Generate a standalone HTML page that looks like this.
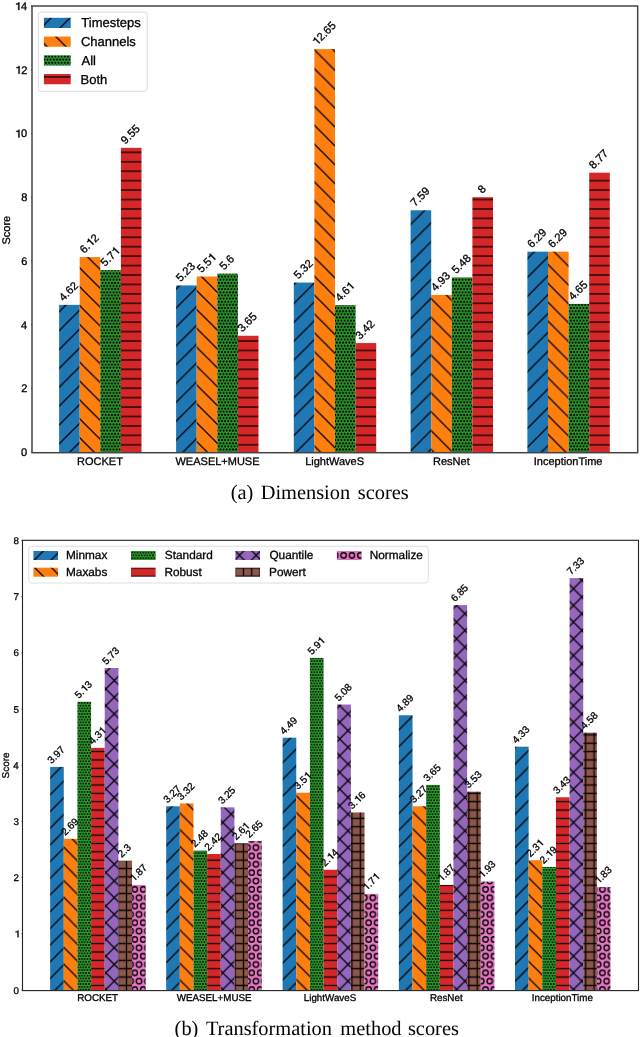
<!DOCTYPE html>
<html><head><meta charset="utf-8"><style>
html,body{margin:0;padding:0;background:#fff;width:640px;height:1037px;overflow:hidden}
svg{display:block;will-change:transform} text{text-rendering:geometricPrecision}
text{fill:#000;stroke:#000;stroke-width:0.3px} text.s{stroke:none}
</style></head><body>
<svg width="640" height="1037" viewBox="0 0 640 1037">
<defs><pattern id="ane_blue" patternUnits="userSpaceOnUse" x="6.480" y="6.020" width="18.8667" height="18.8667"><rect x="-1" y="-1" width="20.867" height="20.867" fill="#1f77b4"/><path d="M-18.867,37.733L37.733,-18.867M-18.867,18.867L18.867,-18.867M0,37.733L37.733,0" stroke="#000" stroke-width="1.25"/></pattern><pattern id="ase_blue" patternUnits="userSpaceOnUse" x="6.480" y="6.020" width="18.8667" height="18.8667"><rect x="-1" y="-1" width="20.867" height="20.867" fill="#1f77b4"/><path d="M-18.867,-18.867L37.733,37.733M-18.867,0L18.867,37.733M0,-18.867L37.733,18.867" stroke="#000" stroke-width="1.25"/></pattern><pattern id="ax_blue" patternUnits="userSpaceOnUse" x="6.480" y="6.020" width="18.8667" height="18.8667"><rect x="-1" y="-1" width="20.867" height="20.867" fill="#1f77b4"/><path d="M-18.867,37.733L37.733,-18.867M-18.867,18.867L18.867,-18.867M0,37.733L37.733,0M-18.867,-18.867L37.733,37.733M-18.867,0L18.867,37.733M0,-18.867L37.733,18.867" stroke="#000" stroke-width="1.25"/></pattern><pattern id="ah_blue" patternUnits="userSpaceOnUse" x="0" y="-3.287" width="9.4333" height="9.4333"><rect x="-1" y="-1" width="11.433" height="11.433" fill="#1f77b4"/><path d="M-1,4.717H10.433" stroke="#000" stroke-width="1.25"/></pattern><pattern id="ap_blue" patternUnits="userSpaceOnUse" x="-2.833" y="-3.287" width="9.4333" height="9.4333"><rect x="-1" y="-1" width="11.433" height="11.433" fill="#1f77b4"/><path d="M-1,4.717H10.433M4.717,-1V10.433" stroke="#000" stroke-width="1.25"/></pattern><pattern id="aO_blue" patternUnits="userSpaceOnUse" x="6.600" y="6.147" width="9.4333" height="18.8667"><rect x="-1" y="-1" width="11.433" height="20.867" fill="#1f77b4"/><g fill="none" stroke="#000" stroke-width="1.25"><circle cx="0.000" cy="0.000" r="3.302"/><circle cx="9.433" cy="0.000" r="3.302"/><circle cx="0.000" cy="18.867" r="3.302"/><circle cx="9.433" cy="18.867" r="3.302"/><circle cx="4.717" cy="9.433" r="3.302"/></g></pattern><pattern id="ad_blue" patternUnits="userSpaceOnUse" x="8.172" y="6.147" width="3.1444" height="6.2889"><rect x="-1" y="-1" width="5.144" height="8.289" fill="#1f77b4"/><g fill="#000"><circle cx="0.000" cy="0.000" r="1.050"/><circle cx="3.144" cy="0.000" r="1.050"/><circle cx="0.000" cy="6.289" r="1.050"/><circle cx="3.144" cy="6.289" r="1.050"/><circle cx="1.572" cy="3.144" r="1.050"/></g></pattern><pattern id="ane_orange" patternUnits="userSpaceOnUse" x="6.480" y="6.020" width="18.8667" height="18.8667"><rect x="-1" y="-1" width="20.867" height="20.867" fill="#ff7f0e"/><path d="M-18.867,37.733L37.733,-18.867M-18.867,18.867L18.867,-18.867M0,37.733L37.733,0" stroke="#000" stroke-width="1.25"/></pattern><pattern id="ase_orange" patternUnits="userSpaceOnUse" x="6.480" y="6.020" width="18.8667" height="18.8667"><rect x="-1" y="-1" width="20.867" height="20.867" fill="#ff7f0e"/><path d="M-18.867,-18.867L37.733,37.733M-18.867,0L18.867,37.733M0,-18.867L37.733,18.867" stroke="#000" stroke-width="1.25"/></pattern><pattern id="ax_orange" patternUnits="userSpaceOnUse" x="6.480" y="6.020" width="18.8667" height="18.8667"><rect x="-1" y="-1" width="20.867" height="20.867" fill="#ff7f0e"/><path d="M-18.867,37.733L37.733,-18.867M-18.867,18.867L18.867,-18.867M0,37.733L37.733,0M-18.867,-18.867L37.733,37.733M-18.867,0L18.867,37.733M0,-18.867L37.733,18.867" stroke="#000" stroke-width="1.25"/></pattern><pattern id="ah_orange" patternUnits="userSpaceOnUse" x="0" y="-3.287" width="9.4333" height="9.4333"><rect x="-1" y="-1" width="11.433" height="11.433" fill="#ff7f0e"/><path d="M-1,4.717H10.433" stroke="#000" stroke-width="1.25"/></pattern><pattern id="ap_orange" patternUnits="userSpaceOnUse" x="-2.833" y="-3.287" width="9.4333" height="9.4333"><rect x="-1" y="-1" width="11.433" height="11.433" fill="#ff7f0e"/><path d="M-1,4.717H10.433M4.717,-1V10.433" stroke="#000" stroke-width="1.25"/></pattern><pattern id="aO_orange" patternUnits="userSpaceOnUse" x="6.600" y="6.147" width="9.4333" height="18.8667"><rect x="-1" y="-1" width="11.433" height="20.867" fill="#ff7f0e"/><g fill="none" stroke="#000" stroke-width="1.25"><circle cx="0.000" cy="0.000" r="3.302"/><circle cx="9.433" cy="0.000" r="3.302"/><circle cx="0.000" cy="18.867" r="3.302"/><circle cx="9.433" cy="18.867" r="3.302"/><circle cx="4.717" cy="9.433" r="3.302"/></g></pattern><pattern id="ad_orange" patternUnits="userSpaceOnUse" x="8.172" y="6.147" width="3.1444" height="6.2889"><rect x="-1" y="-1" width="5.144" height="8.289" fill="#ff7f0e"/><g fill="#000"><circle cx="0.000" cy="0.000" r="1.050"/><circle cx="3.144" cy="0.000" r="1.050"/><circle cx="0.000" cy="6.289" r="1.050"/><circle cx="3.144" cy="6.289" r="1.050"/><circle cx="1.572" cy="3.144" r="1.050"/></g></pattern><pattern id="ane_green" patternUnits="userSpaceOnUse" x="6.480" y="6.020" width="18.8667" height="18.8667"><rect x="-1" y="-1" width="20.867" height="20.867" fill="#2ca02c"/><path d="M-18.867,37.733L37.733,-18.867M-18.867,18.867L18.867,-18.867M0,37.733L37.733,0" stroke="#000" stroke-width="1.25"/></pattern><pattern id="ase_green" patternUnits="userSpaceOnUse" x="6.480" y="6.020" width="18.8667" height="18.8667"><rect x="-1" y="-1" width="20.867" height="20.867" fill="#2ca02c"/><path d="M-18.867,-18.867L37.733,37.733M-18.867,0L18.867,37.733M0,-18.867L37.733,18.867" stroke="#000" stroke-width="1.25"/></pattern><pattern id="ax_green" patternUnits="userSpaceOnUse" x="6.480" y="6.020" width="18.8667" height="18.8667"><rect x="-1" y="-1" width="20.867" height="20.867" fill="#2ca02c"/><path d="M-18.867,37.733L37.733,-18.867M-18.867,18.867L18.867,-18.867M0,37.733L37.733,0M-18.867,-18.867L37.733,37.733M-18.867,0L18.867,37.733M0,-18.867L37.733,18.867" stroke="#000" stroke-width="1.25"/></pattern><pattern id="ah_green" patternUnits="userSpaceOnUse" x="0" y="-3.287" width="9.4333" height="9.4333"><rect x="-1" y="-1" width="11.433" height="11.433" fill="#2ca02c"/><path d="M-1,4.717H10.433" stroke="#000" stroke-width="1.25"/></pattern><pattern id="ap_green" patternUnits="userSpaceOnUse" x="-2.833" y="-3.287" width="9.4333" height="9.4333"><rect x="-1" y="-1" width="11.433" height="11.433" fill="#2ca02c"/><path d="M-1,4.717H10.433M4.717,-1V10.433" stroke="#000" stroke-width="1.25"/></pattern><pattern id="aO_green" patternUnits="userSpaceOnUse" x="6.600" y="6.147" width="9.4333" height="18.8667"><rect x="-1" y="-1" width="11.433" height="20.867" fill="#2ca02c"/><g fill="none" stroke="#000" stroke-width="1.25"><circle cx="0.000" cy="0.000" r="3.302"/><circle cx="9.433" cy="0.000" r="3.302"/><circle cx="0.000" cy="18.867" r="3.302"/><circle cx="9.433" cy="18.867" r="3.302"/><circle cx="4.717" cy="9.433" r="3.302"/></g></pattern><pattern id="ad_green" patternUnits="userSpaceOnUse" x="8.172" y="6.147" width="3.1444" height="6.2889"><rect x="-1" y="-1" width="5.144" height="8.289" fill="#2ca02c"/><g fill="#000"><circle cx="0.000" cy="0.000" r="1.050"/><circle cx="3.144" cy="0.000" r="1.050"/><circle cx="0.000" cy="6.289" r="1.050"/><circle cx="3.144" cy="6.289" r="1.050"/><circle cx="1.572" cy="3.144" r="1.050"/></g></pattern><pattern id="ane_red" patternUnits="userSpaceOnUse" x="6.480" y="6.020" width="18.8667" height="18.8667"><rect x="-1" y="-1" width="20.867" height="20.867" fill="#d62728"/><path d="M-18.867,37.733L37.733,-18.867M-18.867,18.867L18.867,-18.867M0,37.733L37.733,0" stroke="#000" stroke-width="1.25"/></pattern><pattern id="ase_red" patternUnits="userSpaceOnUse" x="6.480" y="6.020" width="18.8667" height="18.8667"><rect x="-1" y="-1" width="20.867" height="20.867" fill="#d62728"/><path d="M-18.867,-18.867L37.733,37.733M-18.867,0L18.867,37.733M0,-18.867L37.733,18.867" stroke="#000" stroke-width="1.25"/></pattern><pattern id="ax_red" patternUnits="userSpaceOnUse" x="6.480" y="6.020" width="18.8667" height="18.8667"><rect x="-1" y="-1" width="20.867" height="20.867" fill="#d62728"/><path d="M-18.867,37.733L37.733,-18.867M-18.867,18.867L18.867,-18.867M0,37.733L37.733,0M-18.867,-18.867L37.733,37.733M-18.867,0L18.867,37.733M0,-18.867L37.733,18.867" stroke="#000" stroke-width="1.25"/></pattern><pattern id="ah_red" patternUnits="userSpaceOnUse" x="0" y="-3.287" width="9.4333" height="9.4333"><rect x="-1" y="-1" width="11.433" height="11.433" fill="#d62728"/><path d="M-1,4.717H10.433" stroke="#000" stroke-width="1.25"/></pattern><pattern id="ap_red" patternUnits="userSpaceOnUse" x="-2.833" y="-3.287" width="9.4333" height="9.4333"><rect x="-1" y="-1" width="11.433" height="11.433" fill="#d62728"/><path d="M-1,4.717H10.433M4.717,-1V10.433" stroke="#000" stroke-width="1.25"/></pattern><pattern id="aO_red" patternUnits="userSpaceOnUse" x="6.600" y="6.147" width="9.4333" height="18.8667"><rect x="-1" y="-1" width="11.433" height="20.867" fill="#d62728"/><g fill="none" stroke="#000" stroke-width="1.25"><circle cx="0.000" cy="0.000" r="3.302"/><circle cx="9.433" cy="0.000" r="3.302"/><circle cx="0.000" cy="18.867" r="3.302"/><circle cx="9.433" cy="18.867" r="3.302"/><circle cx="4.717" cy="9.433" r="3.302"/></g></pattern><pattern id="ad_red" patternUnits="userSpaceOnUse" x="8.172" y="6.147" width="3.1444" height="6.2889"><rect x="-1" y="-1" width="5.144" height="8.289" fill="#d62728"/><g fill="#000"><circle cx="0.000" cy="0.000" r="1.050"/><circle cx="3.144" cy="0.000" r="1.050"/><circle cx="0.000" cy="6.289" r="1.050"/><circle cx="3.144" cy="6.289" r="1.050"/><circle cx="1.572" cy="3.144" r="1.050"/></g></pattern><pattern id="ane_purple" patternUnits="userSpaceOnUse" x="6.480" y="6.020" width="18.8667" height="18.8667"><rect x="-1" y="-1" width="20.867" height="20.867" fill="#9467bd"/><path d="M-18.867,37.733L37.733,-18.867M-18.867,18.867L18.867,-18.867M0,37.733L37.733,0" stroke="#000" stroke-width="1.25"/></pattern><pattern id="ase_purple" patternUnits="userSpaceOnUse" x="6.480" y="6.020" width="18.8667" height="18.8667"><rect x="-1" y="-1" width="20.867" height="20.867" fill="#9467bd"/><path d="M-18.867,-18.867L37.733,37.733M-18.867,0L18.867,37.733M0,-18.867L37.733,18.867" stroke="#000" stroke-width="1.25"/></pattern><pattern id="ax_purple" patternUnits="userSpaceOnUse" x="6.480" y="6.020" width="18.8667" height="18.8667"><rect x="-1" y="-1" width="20.867" height="20.867" fill="#9467bd"/><path d="M-18.867,37.733L37.733,-18.867M-18.867,18.867L18.867,-18.867M0,37.733L37.733,0M-18.867,-18.867L37.733,37.733M-18.867,0L18.867,37.733M0,-18.867L37.733,18.867" stroke="#000" stroke-width="1.25"/></pattern><pattern id="ah_purple" patternUnits="userSpaceOnUse" x="0" y="-3.287" width="9.4333" height="9.4333"><rect x="-1" y="-1" width="11.433" height="11.433" fill="#9467bd"/><path d="M-1,4.717H10.433" stroke="#000" stroke-width="1.25"/></pattern><pattern id="ap_purple" patternUnits="userSpaceOnUse" x="-2.833" y="-3.287" width="9.4333" height="9.4333"><rect x="-1" y="-1" width="11.433" height="11.433" fill="#9467bd"/><path d="M-1,4.717H10.433M4.717,-1V10.433" stroke="#000" stroke-width="1.25"/></pattern><pattern id="aO_purple" patternUnits="userSpaceOnUse" x="6.600" y="6.147" width="9.4333" height="18.8667"><rect x="-1" y="-1" width="11.433" height="20.867" fill="#9467bd"/><g fill="none" stroke="#000" stroke-width="1.25"><circle cx="0.000" cy="0.000" r="3.302"/><circle cx="9.433" cy="0.000" r="3.302"/><circle cx="0.000" cy="18.867" r="3.302"/><circle cx="9.433" cy="18.867" r="3.302"/><circle cx="4.717" cy="9.433" r="3.302"/></g></pattern><pattern id="ad_purple" patternUnits="userSpaceOnUse" x="8.172" y="6.147" width="3.1444" height="6.2889"><rect x="-1" y="-1" width="5.144" height="8.289" fill="#9467bd"/><g fill="#000"><circle cx="0.000" cy="0.000" r="1.050"/><circle cx="3.144" cy="0.000" r="1.050"/><circle cx="0.000" cy="6.289" r="1.050"/><circle cx="3.144" cy="6.289" r="1.050"/><circle cx="1.572" cy="3.144" r="1.050"/></g></pattern><pattern id="ane_brown" patternUnits="userSpaceOnUse" x="6.480" y="6.020" width="18.8667" height="18.8667"><rect x="-1" y="-1" width="20.867" height="20.867" fill="#8c564b"/><path d="M-18.867,37.733L37.733,-18.867M-18.867,18.867L18.867,-18.867M0,37.733L37.733,0" stroke="#000" stroke-width="1.25"/></pattern><pattern id="ase_brown" patternUnits="userSpaceOnUse" x="6.480" y="6.020" width="18.8667" height="18.8667"><rect x="-1" y="-1" width="20.867" height="20.867" fill="#8c564b"/><path d="M-18.867,-18.867L37.733,37.733M-18.867,0L18.867,37.733M0,-18.867L37.733,18.867" stroke="#000" stroke-width="1.25"/></pattern><pattern id="ax_brown" patternUnits="userSpaceOnUse" x="6.480" y="6.020" width="18.8667" height="18.8667"><rect x="-1" y="-1" width="20.867" height="20.867" fill="#8c564b"/><path d="M-18.867,37.733L37.733,-18.867M-18.867,18.867L18.867,-18.867M0,37.733L37.733,0M-18.867,-18.867L37.733,37.733M-18.867,0L18.867,37.733M0,-18.867L37.733,18.867" stroke="#000" stroke-width="1.25"/></pattern><pattern id="ah_brown" patternUnits="userSpaceOnUse" x="0" y="-3.287" width="9.4333" height="9.4333"><rect x="-1" y="-1" width="11.433" height="11.433" fill="#8c564b"/><path d="M-1,4.717H10.433" stroke="#000" stroke-width="1.25"/></pattern><pattern id="ap_brown" patternUnits="userSpaceOnUse" x="-2.833" y="-3.287" width="9.4333" height="9.4333"><rect x="-1" y="-1" width="11.433" height="11.433" fill="#8c564b"/><path d="M-1,4.717H10.433M4.717,-1V10.433" stroke="#000" stroke-width="1.25"/></pattern><pattern id="aO_brown" patternUnits="userSpaceOnUse" x="6.600" y="6.147" width="9.4333" height="18.8667"><rect x="-1" y="-1" width="11.433" height="20.867" fill="#8c564b"/><g fill="none" stroke="#000" stroke-width="1.25"><circle cx="0.000" cy="0.000" r="3.302"/><circle cx="9.433" cy="0.000" r="3.302"/><circle cx="0.000" cy="18.867" r="3.302"/><circle cx="9.433" cy="18.867" r="3.302"/><circle cx="4.717" cy="9.433" r="3.302"/></g></pattern><pattern id="ad_brown" patternUnits="userSpaceOnUse" x="8.172" y="6.147" width="3.1444" height="6.2889"><rect x="-1" y="-1" width="5.144" height="8.289" fill="#8c564b"/><g fill="#000"><circle cx="0.000" cy="0.000" r="1.050"/><circle cx="3.144" cy="0.000" r="1.050"/><circle cx="0.000" cy="6.289" r="1.050"/><circle cx="3.144" cy="6.289" r="1.050"/><circle cx="1.572" cy="3.144" r="1.050"/></g></pattern><pattern id="ane_pink" patternUnits="userSpaceOnUse" x="6.480" y="6.020" width="18.8667" height="18.8667"><rect x="-1" y="-1" width="20.867" height="20.867" fill="#e377c2"/><path d="M-18.867,37.733L37.733,-18.867M-18.867,18.867L18.867,-18.867M0,37.733L37.733,0" stroke="#000" stroke-width="1.25"/></pattern><pattern id="ase_pink" patternUnits="userSpaceOnUse" x="6.480" y="6.020" width="18.8667" height="18.8667"><rect x="-1" y="-1" width="20.867" height="20.867" fill="#e377c2"/><path d="M-18.867,-18.867L37.733,37.733M-18.867,0L18.867,37.733M0,-18.867L37.733,18.867" stroke="#000" stroke-width="1.25"/></pattern><pattern id="ax_pink" patternUnits="userSpaceOnUse" x="6.480" y="6.020" width="18.8667" height="18.8667"><rect x="-1" y="-1" width="20.867" height="20.867" fill="#e377c2"/><path d="M-18.867,37.733L37.733,-18.867M-18.867,18.867L18.867,-18.867M0,37.733L37.733,0M-18.867,-18.867L37.733,37.733M-18.867,0L18.867,37.733M0,-18.867L37.733,18.867" stroke="#000" stroke-width="1.25"/></pattern><pattern id="ah_pink" patternUnits="userSpaceOnUse" x="0" y="-3.287" width="9.4333" height="9.4333"><rect x="-1" y="-1" width="11.433" height="11.433" fill="#e377c2"/><path d="M-1,4.717H10.433" stroke="#000" stroke-width="1.25"/></pattern><pattern id="ap_pink" patternUnits="userSpaceOnUse" x="-2.833" y="-3.287" width="9.4333" height="9.4333"><rect x="-1" y="-1" width="11.433" height="11.433" fill="#e377c2"/><path d="M-1,4.717H10.433M4.717,-1V10.433" stroke="#000" stroke-width="1.25"/></pattern><pattern id="aO_pink" patternUnits="userSpaceOnUse" x="6.600" y="6.147" width="9.4333" height="18.8667"><rect x="-1" y="-1" width="11.433" height="20.867" fill="#e377c2"/><g fill="none" stroke="#000" stroke-width="1.25"><circle cx="0.000" cy="0.000" r="3.302"/><circle cx="9.433" cy="0.000" r="3.302"/><circle cx="0.000" cy="18.867" r="3.302"/><circle cx="9.433" cy="18.867" r="3.302"/><circle cx="4.717" cy="9.433" r="3.302"/></g></pattern><pattern id="ad_pink" patternUnits="userSpaceOnUse" x="8.172" y="6.147" width="3.1444" height="6.2889"><rect x="-1" y="-1" width="5.144" height="8.289" fill="#e377c2"/><g fill="#000"><circle cx="0.000" cy="0.000" r="1.050"/><circle cx="3.144" cy="0.000" r="1.050"/><circle cx="0.000" cy="6.289" r="1.050"/><circle cx="3.144" cy="6.289" r="1.050"/><circle cx="1.572" cy="3.144" r="1.050"/></g></pattern><pattern id="bne_blue" patternUnits="userSpaceOnUse" x="105.900" y="939.400" width="16.7000" height="16.7000"><rect x="-1" y="-1" width="18.700" height="18.700" fill="#1f77b4"/><path d="M-16.700,33.400L33.400,-16.700M-16.700,16.700L16.700,-16.700M0,33.400L33.400,0" stroke="#000" stroke-width="1.25"/></pattern><pattern id="bse_blue" patternUnits="userSpaceOnUse" x="105.900" y="939.400" width="16.7000" height="16.7000"><rect x="-1" y="-1" width="18.700" height="18.700" fill="#1f77b4"/><path d="M-16.700,-16.700L33.400,33.400M-16.700,0L16.700,33.400M0,-16.700L33.400,16.700" stroke="#000" stroke-width="1.25"/></pattern><pattern id="bx_blue" patternUnits="userSpaceOnUse" x="105.900" y="939.400" width="16.7000" height="16.7000"><rect x="-1" y="-1" width="18.700" height="18.700" fill="#1f77b4"/><path d="M-16.700,33.400L33.400,-16.700M-16.700,16.700L16.700,-16.700M0,33.400L33.400,0M-16.700,-16.700L33.400,33.400M-16.700,0L16.700,33.400M0,-16.700L33.400,16.700" stroke="#000" stroke-width="1.25"/></pattern><pattern id="bh_blue" patternUnits="userSpaceOnUse" x="0" y="-4.075" width="8.3500" height="8.3500"><rect x="-1" y="-1" width="10.350" height="10.350" fill="#1f77b4"/><path d="M-1,4.175H9.350" stroke="#000" stroke-width="1.25"/></pattern><pattern id="bp_blue" patternUnits="userSpaceOnUse" x="122.325" y="-4.075" width="8.3500" height="8.3500"><rect x="-1" y="-1" width="10.350" height="10.350" fill="#1f77b4"/><path d="M-1,4.175H9.350M4.175,-1V9.350" stroke="#000" stroke-width="1.25"/></pattern><pattern id="bO_blue" patternUnits="userSpaceOnUse" x="130.675" y="12.625" width="8.3500" height="16.7000"><rect x="-1" y="-1" width="10.350" height="18.700" fill="#1f77b4"/><g fill="none" stroke="#000" stroke-width="1.3"><circle cx="0.000" cy="0.000" r="2.700"/><circle cx="8.350" cy="0.000" r="2.700"/><circle cx="0.000" cy="16.700" r="2.700"/><circle cx="8.350" cy="16.700" r="2.700"/><circle cx="4.175" cy="8.350" r="2.700"/></g></pattern><pattern id="bd_blue" patternUnits="userSpaceOnUse" x="130.675" y="4.275" width="2.7833" height="5.5667"><rect x="-1" y="-1" width="4.783" height="7.567" fill="#1f77b4"/><g fill="#000"><circle cx="0.000" cy="0.000" r="0.950"/><circle cx="2.783" cy="0.000" r="0.950"/><circle cx="0.000" cy="5.567" r="0.950"/><circle cx="2.783" cy="5.567" r="0.950"/><circle cx="1.392" cy="2.783" r="0.950"/></g></pattern><pattern id="bne_orange" patternUnits="userSpaceOnUse" x="105.900" y="939.400" width="16.7000" height="16.7000"><rect x="-1" y="-1" width="18.700" height="18.700" fill="#ff7f0e"/><path d="M-16.700,33.400L33.400,-16.700M-16.700,16.700L16.700,-16.700M0,33.400L33.400,0" stroke="#000" stroke-width="1.25"/></pattern><pattern id="bse_orange" patternUnits="userSpaceOnUse" x="105.900" y="939.400" width="16.7000" height="16.7000"><rect x="-1" y="-1" width="18.700" height="18.700" fill="#ff7f0e"/><path d="M-16.700,-16.700L33.400,33.400M-16.700,0L16.700,33.400M0,-16.700L33.400,16.700" stroke="#000" stroke-width="1.25"/></pattern><pattern id="bx_orange" patternUnits="userSpaceOnUse" x="105.900" y="939.400" width="16.7000" height="16.7000"><rect x="-1" y="-1" width="18.700" height="18.700" fill="#ff7f0e"/><path d="M-16.700,33.400L33.400,-16.700M-16.700,16.700L16.700,-16.700M0,33.400L33.400,0M-16.700,-16.700L33.400,33.400M-16.700,0L16.700,33.400M0,-16.700L33.400,16.700" stroke="#000" stroke-width="1.25"/></pattern><pattern id="bh_orange" patternUnits="userSpaceOnUse" x="0" y="-4.075" width="8.3500" height="8.3500"><rect x="-1" y="-1" width="10.350" height="10.350" fill="#ff7f0e"/><path d="M-1,4.175H9.350" stroke="#000" stroke-width="1.25"/></pattern><pattern id="bp_orange" patternUnits="userSpaceOnUse" x="122.325" y="-4.075" width="8.3500" height="8.3500"><rect x="-1" y="-1" width="10.350" height="10.350" fill="#ff7f0e"/><path d="M-1,4.175H9.350M4.175,-1V9.350" stroke="#000" stroke-width="1.25"/></pattern><pattern id="bO_orange" patternUnits="userSpaceOnUse" x="130.675" y="12.625" width="8.3500" height="16.7000"><rect x="-1" y="-1" width="10.350" height="18.700" fill="#ff7f0e"/><g fill="none" stroke="#000" stroke-width="1.3"><circle cx="0.000" cy="0.000" r="2.700"/><circle cx="8.350" cy="0.000" r="2.700"/><circle cx="0.000" cy="16.700" r="2.700"/><circle cx="8.350" cy="16.700" r="2.700"/><circle cx="4.175" cy="8.350" r="2.700"/></g></pattern><pattern id="bd_orange" patternUnits="userSpaceOnUse" x="130.675" y="4.275" width="2.7833" height="5.5667"><rect x="-1" y="-1" width="4.783" height="7.567" fill="#ff7f0e"/><g fill="#000"><circle cx="0.000" cy="0.000" r="0.950"/><circle cx="2.783" cy="0.000" r="0.950"/><circle cx="0.000" cy="5.567" r="0.950"/><circle cx="2.783" cy="5.567" r="0.950"/><circle cx="1.392" cy="2.783" r="0.950"/></g></pattern><pattern id="bne_green" patternUnits="userSpaceOnUse" x="105.900" y="939.400" width="16.7000" height="16.7000"><rect x="-1" y="-1" width="18.700" height="18.700" fill="#2ca02c"/><path d="M-16.700,33.400L33.400,-16.700M-16.700,16.700L16.700,-16.700M0,33.400L33.400,0" stroke="#000" stroke-width="1.25"/></pattern><pattern id="bse_green" patternUnits="userSpaceOnUse" x="105.900" y="939.400" width="16.7000" height="16.7000"><rect x="-1" y="-1" width="18.700" height="18.700" fill="#2ca02c"/><path d="M-16.700,-16.700L33.400,33.400M-16.700,0L16.700,33.400M0,-16.700L33.400,16.700" stroke="#000" stroke-width="1.25"/></pattern><pattern id="bx_green" patternUnits="userSpaceOnUse" x="105.900" y="939.400" width="16.7000" height="16.7000"><rect x="-1" y="-1" width="18.700" height="18.700" fill="#2ca02c"/><path d="M-16.700,33.400L33.400,-16.700M-16.700,16.700L16.700,-16.700M0,33.400L33.400,0M-16.700,-16.700L33.400,33.400M-16.700,0L16.700,33.400M0,-16.700L33.400,16.700" stroke="#000" stroke-width="1.25"/></pattern><pattern id="bh_green" patternUnits="userSpaceOnUse" x="0" y="-4.075" width="8.3500" height="8.3500"><rect x="-1" y="-1" width="10.350" height="10.350" fill="#2ca02c"/><path d="M-1,4.175H9.350" stroke="#000" stroke-width="1.25"/></pattern><pattern id="bp_green" patternUnits="userSpaceOnUse" x="122.325" y="-4.075" width="8.3500" height="8.3500"><rect x="-1" y="-1" width="10.350" height="10.350" fill="#2ca02c"/><path d="M-1,4.175H9.350M4.175,-1V9.350" stroke="#000" stroke-width="1.25"/></pattern><pattern id="bO_green" patternUnits="userSpaceOnUse" x="130.675" y="12.625" width="8.3500" height="16.7000"><rect x="-1" y="-1" width="10.350" height="18.700" fill="#2ca02c"/><g fill="none" stroke="#000" stroke-width="1.3"><circle cx="0.000" cy="0.000" r="2.700"/><circle cx="8.350" cy="0.000" r="2.700"/><circle cx="0.000" cy="16.700" r="2.700"/><circle cx="8.350" cy="16.700" r="2.700"/><circle cx="4.175" cy="8.350" r="2.700"/></g></pattern><pattern id="bd_green" patternUnits="userSpaceOnUse" x="130.675" y="4.275" width="2.7833" height="5.5667"><rect x="-1" y="-1" width="4.783" height="7.567" fill="#2ca02c"/><g fill="#000"><circle cx="0.000" cy="0.000" r="0.950"/><circle cx="2.783" cy="0.000" r="0.950"/><circle cx="0.000" cy="5.567" r="0.950"/><circle cx="2.783" cy="5.567" r="0.950"/><circle cx="1.392" cy="2.783" r="0.950"/></g></pattern><pattern id="bne_red" patternUnits="userSpaceOnUse" x="105.900" y="939.400" width="16.7000" height="16.7000"><rect x="-1" y="-1" width="18.700" height="18.700" fill="#d62728"/><path d="M-16.700,33.400L33.400,-16.700M-16.700,16.700L16.700,-16.700M0,33.400L33.400,0" stroke="#000" stroke-width="1.25"/></pattern><pattern id="bse_red" patternUnits="userSpaceOnUse" x="105.900" y="939.400" width="16.7000" height="16.7000"><rect x="-1" y="-1" width="18.700" height="18.700" fill="#d62728"/><path d="M-16.700,-16.700L33.400,33.400M-16.700,0L16.700,33.400M0,-16.700L33.400,16.700" stroke="#000" stroke-width="1.25"/></pattern><pattern id="bx_red" patternUnits="userSpaceOnUse" x="105.900" y="939.400" width="16.7000" height="16.7000"><rect x="-1" y="-1" width="18.700" height="18.700" fill="#d62728"/><path d="M-16.700,33.400L33.400,-16.700M-16.700,16.700L16.700,-16.700M0,33.400L33.400,0M-16.700,-16.700L33.400,33.400M-16.700,0L16.700,33.400M0,-16.700L33.400,16.700" stroke="#000" stroke-width="1.25"/></pattern><pattern id="bh_red" patternUnits="userSpaceOnUse" x="0" y="-4.075" width="8.3500" height="8.3500"><rect x="-1" y="-1" width="10.350" height="10.350" fill="#d62728"/><path d="M-1,4.175H9.350" stroke="#000" stroke-width="1.25"/></pattern><pattern id="bp_red" patternUnits="userSpaceOnUse" x="122.325" y="-4.075" width="8.3500" height="8.3500"><rect x="-1" y="-1" width="10.350" height="10.350" fill="#d62728"/><path d="M-1,4.175H9.350M4.175,-1V9.350" stroke="#000" stroke-width="1.25"/></pattern><pattern id="bO_red" patternUnits="userSpaceOnUse" x="130.675" y="12.625" width="8.3500" height="16.7000"><rect x="-1" y="-1" width="10.350" height="18.700" fill="#d62728"/><g fill="none" stroke="#000" stroke-width="1.3"><circle cx="0.000" cy="0.000" r="2.700"/><circle cx="8.350" cy="0.000" r="2.700"/><circle cx="0.000" cy="16.700" r="2.700"/><circle cx="8.350" cy="16.700" r="2.700"/><circle cx="4.175" cy="8.350" r="2.700"/></g></pattern><pattern id="bd_red" patternUnits="userSpaceOnUse" x="130.675" y="4.275" width="2.7833" height="5.5667"><rect x="-1" y="-1" width="4.783" height="7.567" fill="#d62728"/><g fill="#000"><circle cx="0.000" cy="0.000" r="0.950"/><circle cx="2.783" cy="0.000" r="0.950"/><circle cx="0.000" cy="5.567" r="0.950"/><circle cx="2.783" cy="5.567" r="0.950"/><circle cx="1.392" cy="2.783" r="0.950"/></g></pattern><pattern id="bne_purple" patternUnits="userSpaceOnUse" x="105.900" y="939.400" width="16.7000" height="16.7000"><rect x="-1" y="-1" width="18.700" height="18.700" fill="#9467bd"/><path d="M-16.700,33.400L33.400,-16.700M-16.700,16.700L16.700,-16.700M0,33.400L33.400,0" stroke="#000" stroke-width="1.25"/></pattern><pattern id="bse_purple" patternUnits="userSpaceOnUse" x="105.900" y="939.400" width="16.7000" height="16.7000"><rect x="-1" y="-1" width="18.700" height="18.700" fill="#9467bd"/><path d="M-16.700,-16.700L33.400,33.400M-16.700,0L16.700,33.400M0,-16.700L33.400,16.700" stroke="#000" stroke-width="1.25"/></pattern><pattern id="bx_purple" patternUnits="userSpaceOnUse" x="105.900" y="939.400" width="16.7000" height="16.7000"><rect x="-1" y="-1" width="18.700" height="18.700" fill="#9467bd"/><path d="M-16.700,33.400L33.400,-16.700M-16.700,16.700L16.700,-16.700M0,33.400L33.400,0M-16.700,-16.700L33.400,33.400M-16.700,0L16.700,33.400M0,-16.700L33.400,16.700" stroke="#000" stroke-width="1.25"/></pattern><pattern id="bh_purple" patternUnits="userSpaceOnUse" x="0" y="-4.075" width="8.3500" height="8.3500"><rect x="-1" y="-1" width="10.350" height="10.350" fill="#9467bd"/><path d="M-1,4.175H9.350" stroke="#000" stroke-width="1.25"/></pattern><pattern id="bp_purple" patternUnits="userSpaceOnUse" x="122.325" y="-4.075" width="8.3500" height="8.3500"><rect x="-1" y="-1" width="10.350" height="10.350" fill="#9467bd"/><path d="M-1,4.175H9.350M4.175,-1V9.350" stroke="#000" stroke-width="1.25"/></pattern><pattern id="bO_purple" patternUnits="userSpaceOnUse" x="130.675" y="12.625" width="8.3500" height="16.7000"><rect x="-1" y="-1" width="10.350" height="18.700" fill="#9467bd"/><g fill="none" stroke="#000" stroke-width="1.3"><circle cx="0.000" cy="0.000" r="2.700"/><circle cx="8.350" cy="0.000" r="2.700"/><circle cx="0.000" cy="16.700" r="2.700"/><circle cx="8.350" cy="16.700" r="2.700"/><circle cx="4.175" cy="8.350" r="2.700"/></g></pattern><pattern id="bd_purple" patternUnits="userSpaceOnUse" x="130.675" y="4.275" width="2.7833" height="5.5667"><rect x="-1" y="-1" width="4.783" height="7.567" fill="#9467bd"/><g fill="#000"><circle cx="0.000" cy="0.000" r="0.950"/><circle cx="2.783" cy="0.000" r="0.950"/><circle cx="0.000" cy="5.567" r="0.950"/><circle cx="2.783" cy="5.567" r="0.950"/><circle cx="1.392" cy="2.783" r="0.950"/></g></pattern><pattern id="bne_brown" patternUnits="userSpaceOnUse" x="105.900" y="939.400" width="16.7000" height="16.7000"><rect x="-1" y="-1" width="18.700" height="18.700" fill="#8c564b"/><path d="M-16.700,33.400L33.400,-16.700M-16.700,16.700L16.700,-16.700M0,33.400L33.400,0" stroke="#000" stroke-width="1.25"/></pattern><pattern id="bse_brown" patternUnits="userSpaceOnUse" x="105.900" y="939.400" width="16.7000" height="16.7000"><rect x="-1" y="-1" width="18.700" height="18.700" fill="#8c564b"/><path d="M-16.700,-16.700L33.400,33.400M-16.700,0L16.700,33.400M0,-16.700L33.400,16.700" stroke="#000" stroke-width="1.25"/></pattern><pattern id="bx_brown" patternUnits="userSpaceOnUse" x="105.900" y="939.400" width="16.7000" height="16.7000"><rect x="-1" y="-1" width="18.700" height="18.700" fill="#8c564b"/><path d="M-16.700,33.400L33.400,-16.700M-16.700,16.700L16.700,-16.700M0,33.400L33.400,0M-16.700,-16.700L33.400,33.400M-16.700,0L16.700,33.400M0,-16.700L33.400,16.700" stroke="#000" stroke-width="1.25"/></pattern><pattern id="bh_brown" patternUnits="userSpaceOnUse" x="0" y="-4.075" width="8.3500" height="8.3500"><rect x="-1" y="-1" width="10.350" height="10.350" fill="#8c564b"/><path d="M-1,4.175H9.350" stroke="#000" stroke-width="1.25"/></pattern><pattern id="bp_brown" patternUnits="userSpaceOnUse" x="122.325" y="-4.075" width="8.3500" height="8.3500"><rect x="-1" y="-1" width="10.350" height="10.350" fill="#8c564b"/><path d="M-1,4.175H9.350M4.175,-1V9.350" stroke="#000" stroke-width="1.25"/></pattern><pattern id="bO_brown" patternUnits="userSpaceOnUse" x="130.675" y="12.625" width="8.3500" height="16.7000"><rect x="-1" y="-1" width="10.350" height="18.700" fill="#8c564b"/><g fill="none" stroke="#000" stroke-width="1.3"><circle cx="0.000" cy="0.000" r="2.700"/><circle cx="8.350" cy="0.000" r="2.700"/><circle cx="0.000" cy="16.700" r="2.700"/><circle cx="8.350" cy="16.700" r="2.700"/><circle cx="4.175" cy="8.350" r="2.700"/></g></pattern><pattern id="bd_brown" patternUnits="userSpaceOnUse" x="130.675" y="4.275" width="2.7833" height="5.5667"><rect x="-1" y="-1" width="4.783" height="7.567" fill="#8c564b"/><g fill="#000"><circle cx="0.000" cy="0.000" r="0.950"/><circle cx="2.783" cy="0.000" r="0.950"/><circle cx="0.000" cy="5.567" r="0.950"/><circle cx="2.783" cy="5.567" r="0.950"/><circle cx="1.392" cy="2.783" r="0.950"/></g></pattern><pattern id="bne_pink" patternUnits="userSpaceOnUse" x="105.900" y="939.400" width="16.7000" height="16.7000"><rect x="-1" y="-1" width="18.700" height="18.700" fill="#e377c2"/><path d="M-16.700,33.400L33.400,-16.700M-16.700,16.700L16.700,-16.700M0,33.400L33.400,0" stroke="#000" stroke-width="1.25"/></pattern><pattern id="bse_pink" patternUnits="userSpaceOnUse" x="105.900" y="939.400" width="16.7000" height="16.7000"><rect x="-1" y="-1" width="18.700" height="18.700" fill="#e377c2"/><path d="M-16.700,-16.700L33.400,33.400M-16.700,0L16.700,33.400M0,-16.700L33.400,16.700" stroke="#000" stroke-width="1.25"/></pattern><pattern id="bx_pink" patternUnits="userSpaceOnUse" x="105.900" y="939.400" width="16.7000" height="16.7000"><rect x="-1" y="-1" width="18.700" height="18.700" fill="#e377c2"/><path d="M-16.700,33.400L33.400,-16.700M-16.700,16.700L16.700,-16.700M0,33.400L33.400,0M-16.700,-16.700L33.400,33.400M-16.700,0L16.700,33.400M0,-16.700L33.400,16.700" stroke="#000" stroke-width="1.25"/></pattern><pattern id="bh_pink" patternUnits="userSpaceOnUse" x="0" y="-4.075" width="8.3500" height="8.3500"><rect x="-1" y="-1" width="10.350" height="10.350" fill="#e377c2"/><path d="M-1,4.175H9.350" stroke="#000" stroke-width="1.25"/></pattern><pattern id="bp_pink" patternUnits="userSpaceOnUse" x="122.325" y="-4.075" width="8.3500" height="8.3500"><rect x="-1" y="-1" width="10.350" height="10.350" fill="#e377c2"/><path d="M-1,4.175H9.350M4.175,-1V9.350" stroke="#000" stroke-width="1.25"/></pattern><pattern id="bO_pink" patternUnits="userSpaceOnUse" x="130.675" y="12.625" width="8.3500" height="16.7000"><rect x="-1" y="-1" width="10.350" height="18.700" fill="#e377c2"/><g fill="none" stroke="#000" stroke-width="1.3"><circle cx="0.000" cy="0.000" r="2.700"/><circle cx="8.350" cy="0.000" r="2.700"/><circle cx="0.000" cy="16.700" r="2.700"/><circle cx="8.350" cy="16.700" r="2.700"/><circle cx="4.175" cy="8.350" r="2.700"/></g></pattern><pattern id="bd_pink" patternUnits="userSpaceOnUse" x="130.675" y="4.275" width="2.7833" height="5.5667"><rect x="-1" y="-1" width="4.783" height="7.567" fill="#e377c2"/><g fill="#000"><circle cx="0.000" cy="0.000" r="0.950"/><circle cx="2.783" cy="0.000" r="0.950"/><circle cx="0.000" cy="5.567" r="0.950"/><circle cx="2.783" cy="5.567" r="0.950"/><circle cx="1.392" cy="2.783" r="0.950"/></g></pattern></defs>
<rect width="640" height="1037" fill="#fff"/>
<rect x="59.10" y="304.85" width="20.60" height="147.15" fill="url(#ane_blue)"/><rect x="79.70" y="257.08" width="20.60" height="194.92" fill="url(#ase_orange)"/><rect x="100.30" y="270.14" width="20.60" height="181.86" fill="url(#ad_green)"/><rect x="120.90" y="147.83" width="20.60" height="304.17" fill="url(#ah_red)"/><rect x="176.10" y="285.42" width="20.60" height="166.58" fill="url(#ane_blue)"/><rect x="196.70" y="276.51" width="20.60" height="175.49" fill="url(#ase_orange)"/><rect x="217.30" y="273.64" width="20.60" height="178.36" fill="url(#ad_green)"/><rect x="237.90" y="335.75" width="20.60" height="116.25" fill="url(#ah_red)"/><rect x="293.80" y="282.56" width="20.60" height="169.44" fill="url(#ane_blue)"/><rect x="314.40" y="49.10" width="20.60" height="402.90" fill="url(#ase_orange)"/><rect x="335.00" y="305.17" width="20.60" height="146.83" fill="url(#ad_green)"/><rect x="355.60" y="343.07" width="20.60" height="108.93" fill="url(#ah_red)"/><rect x="410.60" y="210.26" width="20.60" height="241.74" fill="url(#ane_blue)"/><rect x="431.20" y="294.98" width="20.60" height="157.02" fill="url(#ase_orange)"/><rect x="451.80" y="277.46" width="20.60" height="174.54" fill="url(#ad_green)"/><rect x="472.40" y="197.20" width="20.60" height="254.80" fill="url(#ah_red)"/><rect x="527.40" y="251.66" width="20.60" height="200.34" fill="url(#ane_blue)"/><rect x="548.00" y="251.66" width="20.60" height="200.34" fill="url(#ase_orange)"/><rect x="568.60" y="303.90" width="20.60" height="148.10" fill="url(#ad_green)"/><rect x="589.20" y="172.68" width="20.60" height="279.32" fill="url(#ah_red)"/><text transform="translate(63.43,301.71) rotate(-45)" font-size="11.2" font-family='"Liberation Sans", sans-serif'>4.62</text><g transform="translate(84.14,253.93) rotate(-45)" font-size="11.2" font-family='"Liberation Sans", sans-serif'><text x="0.000" y="0">6.</text><path transform="translate(9.341,0) scale(0.01120,-0.01120)" d="M302,0L410,0L410,703L328,703C312,640 285,608 200,600L105,592L105,512L302,512Z" fill="#000" stroke="#000" stroke-width="0.3" vector-effect="non-scaling-stroke"/><text x="15.570" y="0">2</text></g><g transform="translate(105.09,266.99) rotate(-45)" font-size="11.2" font-family='"Liberation Sans", sans-serif'><text x="0.000" y="0">5.7</text><path transform="translate(15.570,0) scale(0.01120,-0.01120)" d="M302,0L410,0L410,703L328,703C312,640 285,608 200,600L105,592L105,512L302,512Z" fill="#000" stroke="#000" stroke-width="0.3" vector-effect="non-scaling-stroke"/></g><text transform="translate(125.29,144.69) rotate(-45)" font-size="11.2" font-family='"Liberation Sans", sans-serif'>9.55</text><text transform="translate(180.47,282.28) rotate(-45)" font-size="11.2" font-family='"Liberation Sans", sans-serif'>5.23</text><g transform="translate(201.49,273.36) rotate(-45)" font-size="11.2" font-family='"Liberation Sans", sans-serif'><text x="0.000" y="0">5.5</text><path transform="translate(15.570,0) scale(0.01120,-0.01120)" d="M302,0L410,0L410,703L328,703C312,640 285,608 200,600L105,592L105,512L302,512Z" fill="#000" stroke="#000" stroke-width="0.3" vector-effect="non-scaling-stroke"/></g><text transform="translate(223.88,270.50) rotate(-45)" font-size="11.2" font-family='"Liberation Sans", sans-serif'>5.6</text><text transform="translate(242.26,332.60) rotate(-45)" font-size="11.2" font-family='"Liberation Sans", sans-serif'>3.65</text><text transform="translate(298.20,279.41) rotate(-45)" font-size="11.2" font-family='"Liberation Sans", sans-serif'>5.32</text><g transform="translate(316.84,45.95) rotate(-45)" font-size="11.2" font-family='"Liberation Sans", sans-serif'><path transform="translate(0.000,0) scale(0.01120,-0.01120)" d="M302,0L410,0L410,703L328,703C312,640 285,608 200,600L105,592L105,512L302,512Z" fill="#000" stroke="#000" stroke-width="0.3" vector-effect="non-scaling-stroke"/><text x="6.229" y="0">2.65</text></g><g transform="translate(339.72,302.03) rotate(-45)" font-size="11.2" font-family='"Liberation Sans", sans-serif'><text x="0.000" y="0">4.6</text><path transform="translate(15.570,0) scale(0.01120,-0.01120)" d="M302,0L410,0L410,703L328,703C312,640 285,608 200,600L105,592L105,512L302,512Z" fill="#000" stroke="#000" stroke-width="0.3" vector-effect="non-scaling-stroke"/></g><text transform="translate(359.99,339.93) rotate(-45)" font-size="11.2" font-family='"Liberation Sans", sans-serif'>3.42</text><text transform="translate(415.03,207.12) rotate(-45)" font-size="11.2" font-family='"Liberation Sans", sans-serif'>7.59</text><text transform="translate(435.51,291.84) rotate(-45)" font-size="11.2" font-family='"Liberation Sans", sans-serif'>4.93</text><text transform="translate(456.17,274.32) rotate(-45)" font-size="11.2" font-family='"Liberation Sans", sans-serif'>5.48</text><text transform="translate(482.29,194.06) rotate(-45)" font-size="11.2" font-family='"Liberation Sans", sans-serif'>8</text><text transform="translate(531.83,248.52) rotate(-45)" font-size="11.2" font-family='"Liberation Sans", sans-serif'>6.29</text><text transform="translate(552.43,248.52) rotate(-45)" font-size="11.2" font-family='"Liberation Sans", sans-serif'>6.29</text><text transform="translate(572.90,300.75) rotate(-45)" font-size="11.2" font-family='"Liberation Sans", sans-serif'>4.65</text><text transform="translate(593.61,169.53) rotate(-45)" font-size="11.2" font-family='"Liberation Sans", sans-serif'>8.77</text><rect x="32.0" y="6.0" width="605.70" height="446.70" fill="none" stroke="#444" stroke-width="1.5"/><path d="M31.00,452.00H32.0" stroke="#444" stroke-width="1.2000000000000002"/><text x="21.11" y="455.94" font-size="11.0" text-anchor="start" font-family='"Liberation Sans", sans-serif' >0</text><path d="M31.00,388.30H32.0" stroke="#444" stroke-width="1.2000000000000002"/><text x="21.24" y="392.24" font-size="11.0" text-anchor="start" font-family='"Liberation Sans", sans-serif' >2</text><path d="M31.00,324.60H32.0" stroke="#444" stroke-width="1.2000000000000002"/><text x="21.00" y="328.54" font-size="11.0" text-anchor="start" font-family='"Liberation Sans", sans-serif' >4</text><path d="M31.00,260.90H32.0" stroke="#444" stroke-width="1.2000000000000002"/><text x="21.17" y="264.84" font-size="11.0" text-anchor="start" font-family='"Liberation Sans", sans-serif' >6</text><path d="M31.00,197.20H32.0" stroke="#444" stroke-width="1.2000000000000002"/><text x="21.16" y="201.14" font-size="11.0" text-anchor="start" font-family='"Liberation Sans", sans-serif' >8</text><path d="M31.00,133.50H32.0" stroke="#444" stroke-width="1.2000000000000002"/><g transform="translate(14.99,137.44)" font-size="11.0" font-family='"Liberation Sans", sans-serif'><path transform="translate(0.000,0) scale(0.01100,-0.01100)" d="M302,0L410,0L410,703L328,703C312,640 285,608 200,600L105,592L105,512L302,512Z" fill="#000" stroke="#000" stroke-width="0.3" vector-effect="non-scaling-stroke"/><text x="6.118" y="0">0</text></g><path d="M31.00,69.80H32.0" stroke="#444" stroke-width="1.2000000000000002"/><g transform="translate(15.12,73.74)" font-size="11.0" font-family='"Liberation Sans", sans-serif'><path transform="translate(0.000,0) scale(0.01100,-0.01100)" d="M302,0L410,0L410,703L328,703C312,640 285,608 200,600L105,592L105,512L302,512Z" fill="#000" stroke="#000" stroke-width="0.3" vector-effect="non-scaling-stroke"/><text x="6.118" y="0">2</text></g><path d="M31.00,6.10H32.0" stroke="#444" stroke-width="1.2000000000000002"/><g transform="translate(14.89,10.04)" font-size="11.0" font-family='"Liberation Sans", sans-serif'><path transform="translate(0.000,0) scale(0.01100,-0.01100)" d="M302,0L410,0L410,703L328,703C312,640 285,608 200,600L105,592L105,512L302,512Z" fill="#000" stroke="#000" stroke-width="0.3" vector-effect="non-scaling-stroke"/><text x="6.118" y="0">4</text></g><text x="77.06" y="464.60" font-size="11.0" text-anchor="start" font-family='"Liberation Sans", sans-serif' >ROCKET</text><text x="175.49" y="464.60" font-size="11.0" text-anchor="start" font-family='"Liberation Sans", sans-serif' >WEASEL+MUSE</text><text x="305.15" y="464.60" font-size="11.0" text-anchor="start" font-family='"Liberation Sans", sans-serif' >LightWaveS</text><text x="433.05" y="464.60" font-size="11.0" text-anchor="start" font-family='"Liberation Sans", sans-serif' >ResNet</text><text x="533.79" y="464.60" font-size="11.0" text-anchor="start" font-family='"Liberation Sans", sans-serif' >InceptionTime</text><text transform="translate(9.90,244.52) rotate(-90)" font-size="11.0" font-family='"Liberation Sans", sans-serif'>Score</text><rect x="38.4" y="12.1" width="108.80" height="79.30" rx="3" fill="#fff" stroke="#d6d6d6" stroke-width="0.9"/><rect x="43.90" y="17.80" width="26.80" height="10.20" fill="url(#ane_blue)"/><text x="81.31" y="27.30" font-size="13.0" text-anchor="start" font-family='"Liberation Sans", sans-serif' >Timesteps</text><rect x="43.90" y="36.55" width="26.80" height="10.20" fill="url(#ase_orange)"/><text x="80.94" y="46.05" font-size="13.0" text-anchor="start" font-family='"Liberation Sans", sans-serif' >Channels</text><rect x="43.90" y="55.30" width="26.80" height="10.20" fill="url(#ad_green)"/><text x="81.57" y="64.80" font-size="13.0" text-anchor="start" font-family='"Liberation Sans", sans-serif' >All</text><rect x="43.90" y="74.05" width="26.80" height="10.20" fill="url(#ah_red)"/><text x="80.53" y="83.55" font-size="13.0" text-anchor="start" font-family='"Liberation Sans", sans-serif' >Both</text><rect x="50.13" y="766.93" width="13.65" height="223.07" fill="url(#bne_blue)"/><rect x="63.78" y="838.85" width="13.65" height="151.15" fill="url(#bse_orange)"/><rect x="77.43" y="701.75" width="13.65" height="288.25" fill="url(#bd_green)"/><rect x="91.08" y="747.82" width="13.65" height="242.18" fill="url(#bh_red)"/><rect x="104.73" y="668.03" width="13.65" height="321.97" fill="url(#bx_purple)"/><rect x="118.38" y="860.76" width="13.65" height="129.24" fill="url(#bp_brown)"/><rect x="132.03" y="884.92" width="13.65" height="105.08" fill="url(#bO_pink)"/><rect x="166.17" y="806.26" width="13.65" height="183.74" fill="url(#bne_blue)"/><rect x="179.82" y="803.45" width="13.65" height="186.55" fill="url(#bse_orange)"/><rect x="193.47" y="850.65" width="13.65" height="139.35" fill="url(#bd_green)"/><rect x="207.12" y="854.02" width="13.65" height="135.98" fill="url(#bh_red)"/><rect x="220.77" y="807.38" width="13.65" height="182.62" fill="url(#bx_purple)"/><rect x="234.42" y="843.34" width="13.65" height="146.66" fill="url(#bp_brown)"/><rect x="248.07" y="841.10" width="13.65" height="148.90" fill="url(#bO_pink)"/><rect x="282.62" y="737.71" width="13.65" height="252.29" fill="url(#bne_blue)"/><rect x="296.27" y="792.77" width="13.65" height="197.23" fill="url(#bse_orange)"/><rect x="309.92" y="657.92" width="13.65" height="332.08" fill="url(#bd_green)"/><rect x="323.57" y="869.75" width="13.65" height="120.25" fill="url(#bh_red)"/><rect x="337.22" y="704.55" width="13.65" height="285.45" fill="url(#bx_purple)"/><rect x="350.88" y="812.44" width="13.65" height="177.56" fill="url(#bp_brown)"/><rect x="364.52" y="893.92" width="13.65" height="96.08" fill="url(#bO_pink)"/><rect x="398.88" y="715.23" width="13.65" height="274.77" fill="url(#bne_blue)"/><rect x="412.52" y="806.26" width="13.65" height="183.74" fill="url(#bse_orange)"/><rect x="426.17" y="784.91" width="13.65" height="205.09" fill="url(#bd_green)"/><rect x="439.82" y="884.92" width="13.65" height="105.08" fill="url(#bh_red)"/><rect x="453.47" y="605.10" width="13.65" height="384.90" fill="url(#bx_purple)"/><rect x="467.12" y="791.65" width="13.65" height="198.35" fill="url(#bp_brown)"/><rect x="480.77" y="881.55" width="13.65" height="108.45" fill="url(#bO_pink)"/><rect x="514.98" y="746.70" width="13.65" height="243.30" fill="url(#bne_blue)"/><rect x="528.62" y="860.20" width="13.65" height="129.80" fill="url(#bse_orange)"/><rect x="542.27" y="866.94" width="13.65" height="123.06" fill="url(#bd_green)"/><rect x="555.92" y="797.27" width="13.65" height="192.73" fill="url(#bh_red)"/><rect x="569.58" y="578.13" width="13.65" height="411.87" fill="url(#bx_purple)"/><rect x="583.23" y="732.65" width="13.65" height="257.35" fill="url(#bp_brown)"/><rect x="596.88" y="887.17" width="13.65" height="102.83" fill="url(#bO_pink)"/><text transform="translate(51.56,764.14) rotate(-45)" font-size="10.1" font-family='"Liberation Sans", sans-serif'>3.97</text><text transform="translate(65.25,836.07) rotate(-45)" font-size="10.1" font-family='"Liberation Sans", sans-serif'>2.69</text><g transform="translate(78.85,698.96) rotate(-45)" font-size="10.1" font-family='"Liberation Sans", sans-serif'><text x="0.000" y="0">5.</text><path transform="translate(8.423,0) scale(0.01010,-0.01010)" d="M302,0L410,0L410,703L328,703C312,640 285,608 200,600L105,592L105,512L302,512Z" fill="#000" stroke="#000" stroke-width="0.3" vector-effect="non-scaling-stroke"/><text x="14.040" y="0">3</text></g><g transform="translate(92.81,745.04) rotate(-45)" font-size="10.1" font-family='"Liberation Sans", sans-serif'><text x="0.000" y="0">4.3</text><path transform="translate(14.040,0) scale(0.01010,-0.01010)" d="M302,0L410,0L410,703L328,703C312,640 285,608 200,600L105,592L105,512L302,512Z" fill="#000" stroke="#000" stroke-width="0.3" vector-effect="non-scaling-stroke"/></g><text transform="translate(106.15,665.25) rotate(-45)" font-size="10.1" font-family='"Liberation Sans", sans-serif'>5.73</text><text transform="translate(121.82,857.98) rotate(-45)" font-size="10.1" font-family='"Liberation Sans", sans-serif'>2.3</text><g transform="translate(133.72,882.14) rotate(-45)" font-size="10.1" font-family='"Liberation Sans", sans-serif'><path transform="translate(0.000,0) scale(0.01010,-0.01010)" d="M302,0L410,0L410,703L328,703C312,640 285,608 200,600L105,592L105,512L302,512Z" fill="#000" stroke="#000" stroke-width="0.3" vector-effect="non-scaling-stroke"/><text x="5.617" y="0">.87</text></g><text transform="translate(167.61,803.48) rotate(-45)" font-size="10.1" font-family='"Liberation Sans", sans-serif'>3.27</text><text transform="translate(181.26,800.67) rotate(-45)" font-size="10.1" font-family='"Liberation Sans", sans-serif'>3.32</text><text transform="translate(194.93,847.87) rotate(-45)" font-size="10.1" font-family='"Liberation Sans", sans-serif'>2.48</text><text transform="translate(208.61,851.24) rotate(-45)" font-size="10.1" font-family='"Liberation Sans", sans-serif'>2.42</text><text transform="translate(222.18,804.60) rotate(-45)" font-size="10.1" font-family='"Liberation Sans", sans-serif'>3.25</text><g transform="translate(236.26,840.56) rotate(-45)" font-size="10.1" font-family='"Liberation Sans", sans-serif'><text x="0.000" y="0">2.6</text><path transform="translate(14.040,0) scale(0.01010,-0.01010)" d="M302,0L410,0L410,703L328,703C312,640 285,608 200,600L105,592L105,512L302,512Z" fill="#000" stroke="#000" stroke-width="0.3" vector-effect="non-scaling-stroke"/></g><text transform="translate(249.53,838.31) rotate(-45)" font-size="10.1" font-family='"Liberation Sans", sans-serif'>2.65</text><text transform="translate(284.00,734.92) rotate(-45)" font-size="10.1" font-family='"Liberation Sans", sans-serif'>4.49</text><g transform="translate(298.07,789.99) rotate(-45)" font-size="10.1" font-family='"Liberation Sans", sans-serif'><text x="0.000" y="0">3.5</text><path transform="translate(14.040,0) scale(0.01010,-0.01010)" d="M302,0L410,0L410,703L328,703C312,640 285,608 200,600L105,592L105,512L302,512Z" fill="#000" stroke="#000" stroke-width="0.3" vector-effect="non-scaling-stroke"/></g><g transform="translate(311.72,655.14) rotate(-45)" font-size="10.1" font-family='"Liberation Sans", sans-serif'><text x="0.000" y="0">5.9</text><path transform="translate(14.040,0) scale(0.01010,-0.01010)" d="M302,0L410,0L410,703L328,703C312,640 285,608 200,600L105,592L105,512L302,512Z" fill="#000" stroke="#000" stroke-width="0.3" vector-effect="non-scaling-stroke"/></g><g transform="translate(324.98,866.97) rotate(-45)" font-size="10.1" font-family='"Liberation Sans", sans-serif'><text x="0.000" y="0">2.</text><path transform="translate(8.423,0) scale(0.01010,-0.01010)" d="M302,0L410,0L410,703L328,703C312,640 285,608 200,600L105,592L105,512L302,512Z" fill="#000" stroke="#000" stroke-width="0.3" vector-effect="non-scaling-stroke"/><text x="14.040" y="0">4</text></g><text transform="translate(338.64,701.77) rotate(-45)" font-size="10.1" font-family='"Liberation Sans", sans-serif'>5.08</text><g transform="translate(352.29,809.66) rotate(-45)" font-size="10.1" font-family='"Liberation Sans", sans-serif'><text x="0.000" y="0">3.</text><path transform="translate(8.423,0) scale(0.01010,-0.01010)" d="M302,0L410,0L410,703L328,703C312,640 285,608 200,600L105,592L105,512L302,512Z" fill="#000" stroke="#000" stroke-width="0.3" vector-effect="non-scaling-stroke"/><text x="14.040" y="0">6</text></g><g transform="translate(366.57,891.13) rotate(-45)" font-size="10.1" font-family='"Liberation Sans", sans-serif'><path transform="translate(0.000,0) scale(0.01010,-0.01010)" d="M302,0L410,0L410,703L328,703C312,640 285,608 200,600L105,592L105,512L302,512Z" fill="#000" stroke="#000" stroke-width="0.3" vector-effect="non-scaling-stroke"/><text x="5.617" y="0">.7</text><path transform="translate(14.040,0) scale(0.01010,-0.01010)" d="M302,0L410,0L410,703L328,703C312,640 285,608 200,600L105,592L105,512L302,512Z" fill="#000" stroke="#000" stroke-width="0.3" vector-effect="non-scaling-stroke"/></g><text transform="translate(400.25,712.45) rotate(-45)" font-size="10.1" font-family='"Liberation Sans", sans-serif'>4.89</text><text transform="translate(413.96,803.48) rotate(-45)" font-size="10.1" font-family='"Liberation Sans", sans-serif'>3.27</text><text transform="translate(427.58,782.12) rotate(-45)" font-size="10.1" font-family='"Liberation Sans", sans-serif'>3.65</text><g transform="translate(441.52,882.14) rotate(-45)" font-size="10.1" font-family='"Liberation Sans", sans-serif'><path transform="translate(0.000,0) scale(0.01010,-0.01010)" d="M302,0L410,0L410,703L328,703C312,640 285,608 200,600L105,592L105,512L302,512Z" fill="#000" stroke="#000" stroke-width="0.3" vector-effect="non-scaling-stroke"/><text x="5.617" y="0">.87</text></g><text transform="translate(454.93,602.32) rotate(-45)" font-size="10.1" font-family='"Liberation Sans", sans-serif'>6.85</text><text transform="translate(468.54,788.87) rotate(-45)" font-size="10.1" font-family='"Liberation Sans", sans-serif'>3.53</text><g transform="translate(482.44,878.77) rotate(-45)" font-size="10.1" font-family='"Liberation Sans", sans-serif'><path transform="translate(0.000,0) scale(0.01010,-0.01010)" d="M302,0L410,0L410,703L328,703C312,640 285,608 200,600L105,592L105,512L302,512Z" fill="#000" stroke="#000" stroke-width="0.3" vector-effect="non-scaling-stroke"/><text x="5.617" y="0">.93</text></g><text transform="translate(516.34,743.92) rotate(-45)" font-size="10.1" font-family='"Liberation Sans", sans-serif'>4.33</text><g transform="translate(530.46,857.42) rotate(-45)" font-size="10.1" font-family='"Liberation Sans", sans-serif'><text x="0.000" y="0">2.3</text><path transform="translate(14.040,0) scale(0.01010,-0.01010)" d="M302,0L410,0L410,703L328,703C312,640 285,608 200,600L105,592L105,512L302,512Z" fill="#000" stroke="#000" stroke-width="0.3" vector-effect="non-scaling-stroke"/></g><g transform="translate(543.75,864.16) rotate(-45)" font-size="10.1" font-family='"Liberation Sans", sans-serif'><text x="0.000" y="0">2.</text><path transform="translate(8.423,0) scale(0.01010,-0.01010)" d="M302,0L410,0L410,703L328,703C312,640 285,608 200,600L105,592L105,512L302,512Z" fill="#000" stroke="#000" stroke-width="0.3" vector-effect="non-scaling-stroke"/><text x="14.040" y="0">9</text></g><text transform="translate(557.34,794.49) rotate(-45)" font-size="10.1" font-family='"Liberation Sans", sans-serif'>3.43</text><text transform="translate(571.04,575.35) rotate(-45)" font-size="10.1" font-family='"Liberation Sans", sans-serif'>7.33</text><text transform="translate(584.58,729.87) rotate(-45)" font-size="10.1" font-family='"Liberation Sans", sans-serif'>4.58</text><g transform="translate(598.54,884.39) rotate(-45)" font-size="10.1" font-family='"Liberation Sans", sans-serif'><path transform="translate(0.000,0) scale(0.01010,-0.01010)" d="M302,0L410,0L410,703L328,703C312,640 285,608 200,600L105,592L105,512L302,512Z" fill="#000" stroke="#000" stroke-width="0.3" vector-effect="non-scaling-stroke"/><text x="5.617" y="0">.83</text></g><rect x="22.5" y="540.3" width="616.00" height="450.30" fill="none" stroke="#222" stroke-width="1.1"/><path d="M21.50,990.00H22.5" stroke="#222" stroke-width="0.8800000000000001"/><text x="13.43" y="993.51" font-size="9.8" text-anchor="start" font-family='"Liberation Sans", sans-serif' >0</text><path d="M21.50,933.81H22.5" stroke="#222" stroke-width="0.8800000000000001"/><g transform="translate(14.51,937.32)" font-size="9.8" font-family='"Liberation Sans", sans-serif'><path transform="translate(0.000,0) scale(0.00980,-0.00980)" d="M302,0L410,0L410,703L328,703C312,640 285,608 200,600L105,592L105,512L302,512Z" fill="#000" stroke="#000" stroke-width="0.3" vector-effect="non-scaling-stroke"/></g><path d="M21.50,877.62H22.5" stroke="#222" stroke-width="0.8800000000000001"/><text x="13.54" y="881.13" font-size="9.8" text-anchor="start" font-family='"Liberation Sans", sans-serif' >2</text><path d="M21.50,821.43H22.5" stroke="#222" stroke-width="0.8800000000000001"/><text x="13.48" y="824.94" font-size="9.8" text-anchor="start" font-family='"Liberation Sans", sans-serif' >3</text><path d="M21.50,765.24H22.5" stroke="#222" stroke-width="0.8800000000000001"/><text x="13.34" y="768.75" font-size="9.8" text-anchor="start" font-family='"Liberation Sans", sans-serif' >4</text><path d="M21.50,709.05H22.5" stroke="#222" stroke-width="0.8800000000000001"/><text x="13.46" y="712.56" font-size="9.8" text-anchor="start" font-family='"Liberation Sans", sans-serif' >5</text><path d="M21.50,652.86H22.5" stroke="#222" stroke-width="0.8800000000000001"/><text x="13.48" y="656.37" font-size="9.8" text-anchor="start" font-family='"Liberation Sans", sans-serif' >6</text><path d="M21.50,596.67H22.5" stroke="#222" stroke-width="0.8800000000000001"/><text x="13.54" y="600.18" font-size="9.8" text-anchor="start" font-family='"Liberation Sans", sans-serif' >7</text><path d="M21.50,540.48H22.5" stroke="#222" stroke-width="0.8800000000000001"/><text x="13.48" y="543.99" font-size="9.8" text-anchor="start" font-family='"Liberation Sans", sans-serif' >8</text><text x="77.19" y="1001.20" font-size="9.8" text-anchor="start" font-family='"Liberation Sans", sans-serif' >ROCKET</text><text x="176.70" y="1001.20" font-size="9.8" text-anchor="start" font-family='"Liberation Sans", sans-serif' >WEASEL+MUSE</text><text x="303.80" y="1001.20" font-size="9.8" text-anchor="start" font-family='"Liberation Sans", sans-serif' >LightWaveS</text><text x="429.95" y="1001.20" font-size="9.8" text-anchor="start" font-family='"Liberation Sans", sans-serif' >ResNet</text><text x="531.74" y="1001.20" font-size="9.8" text-anchor="start" font-family='"Liberation Sans", sans-serif' >InceptionTime</text><text transform="translate(9.40,778.39) rotate(-90)" font-size="9.9" font-family='"Liberation Sans", sans-serif'>Score</text><rect x="28.7" y="546.25" width="399.60" height="36.75" rx="3" fill="#fff" stroke="#d6d6d6" stroke-width="0.8"/><rect x="33.40" y="551.00" width="24.60" height="9.00" fill="url(#bne_blue)"/><text x="66.03" y="559.30" font-size="11.8" text-anchor="start" font-family='"Liberation Sans", sans-serif' >Minmax</text><rect x="33.40" y="567.70" width="24.60" height="9.00" fill="url(#bse_orange)"/><text x="66.03" y="576.00" font-size="11.8" text-anchor="start" font-family='"Liberation Sans", sans-serif' >Maxabs</text><rect x="131.00" y="551.00" width="24.60" height="9.00" fill="url(#bd_green)"/><text x="164.86" y="559.30" font-size="11.8" text-anchor="start" font-family='"Liberation Sans", sans-serif' >Standard</text><rect x="131.00" y="567.70" width="24.60" height="9.00" fill="url(#bh_red)"/><text x="164.43" y="576.00" font-size="11.8" text-anchor="start" font-family='"Liberation Sans", sans-serif' >Robust</text><rect x="235.40" y="551.00" width="24.60" height="9.00" fill="url(#bx_purple)"/><text x="269.44" y="559.30" font-size="11.8" text-anchor="start" font-family='"Liberation Sans", sans-serif' >Quantile</text><rect x="235.40" y="567.70" width="24.60" height="9.00" fill="url(#bp_brown)"/><text x="269.03" y="576.00" font-size="11.8" text-anchor="start" font-family='"Liberation Sans", sans-serif' >Powert</text><rect x="336.90" y="551.00" width="24.60" height="9.00" fill="url(#bO_pink)"/><text x="369.78" y="559.30" font-size="11.8" text-anchor="start" font-family='"Liberation Sans", sans-serif' >Normalize</text>
<text class="s" x="230.70" y="499.20" font-size="20.4" text-anchor="start" font-family='"Liberation Serif", serif' >(a)</text><text class="s" x="260.66" y="499.20" font-size="20.4" text-anchor="start" font-family='"Liberation Serif", serif' >Dimension</text><text class="s" x="357.76" y="499.20" font-size="20.4" text-anchor="start" font-family='"Liberation Serif", serif' >scores</text><text class="s" x="174.60" y="1035.00" font-size="20.4" text-anchor="start" font-family='"Liberation Serif", serif' >(b)</text><text class="s" x="205.88" y="1035.00" font-size="20.4" text-anchor="start" font-family='"Liberation Serif", serif' >Transformation</text><text class="s" x="340.37" y="1035.00" font-size="20.4" text-anchor="start" font-family='"Liberation Serif", serif' >method</text><text class="s" x="407.91" y="1035.00" font-size="20.4" text-anchor="start" font-family='"Liberation Serif", serif' >scores</text>
</svg>
</body></html>
